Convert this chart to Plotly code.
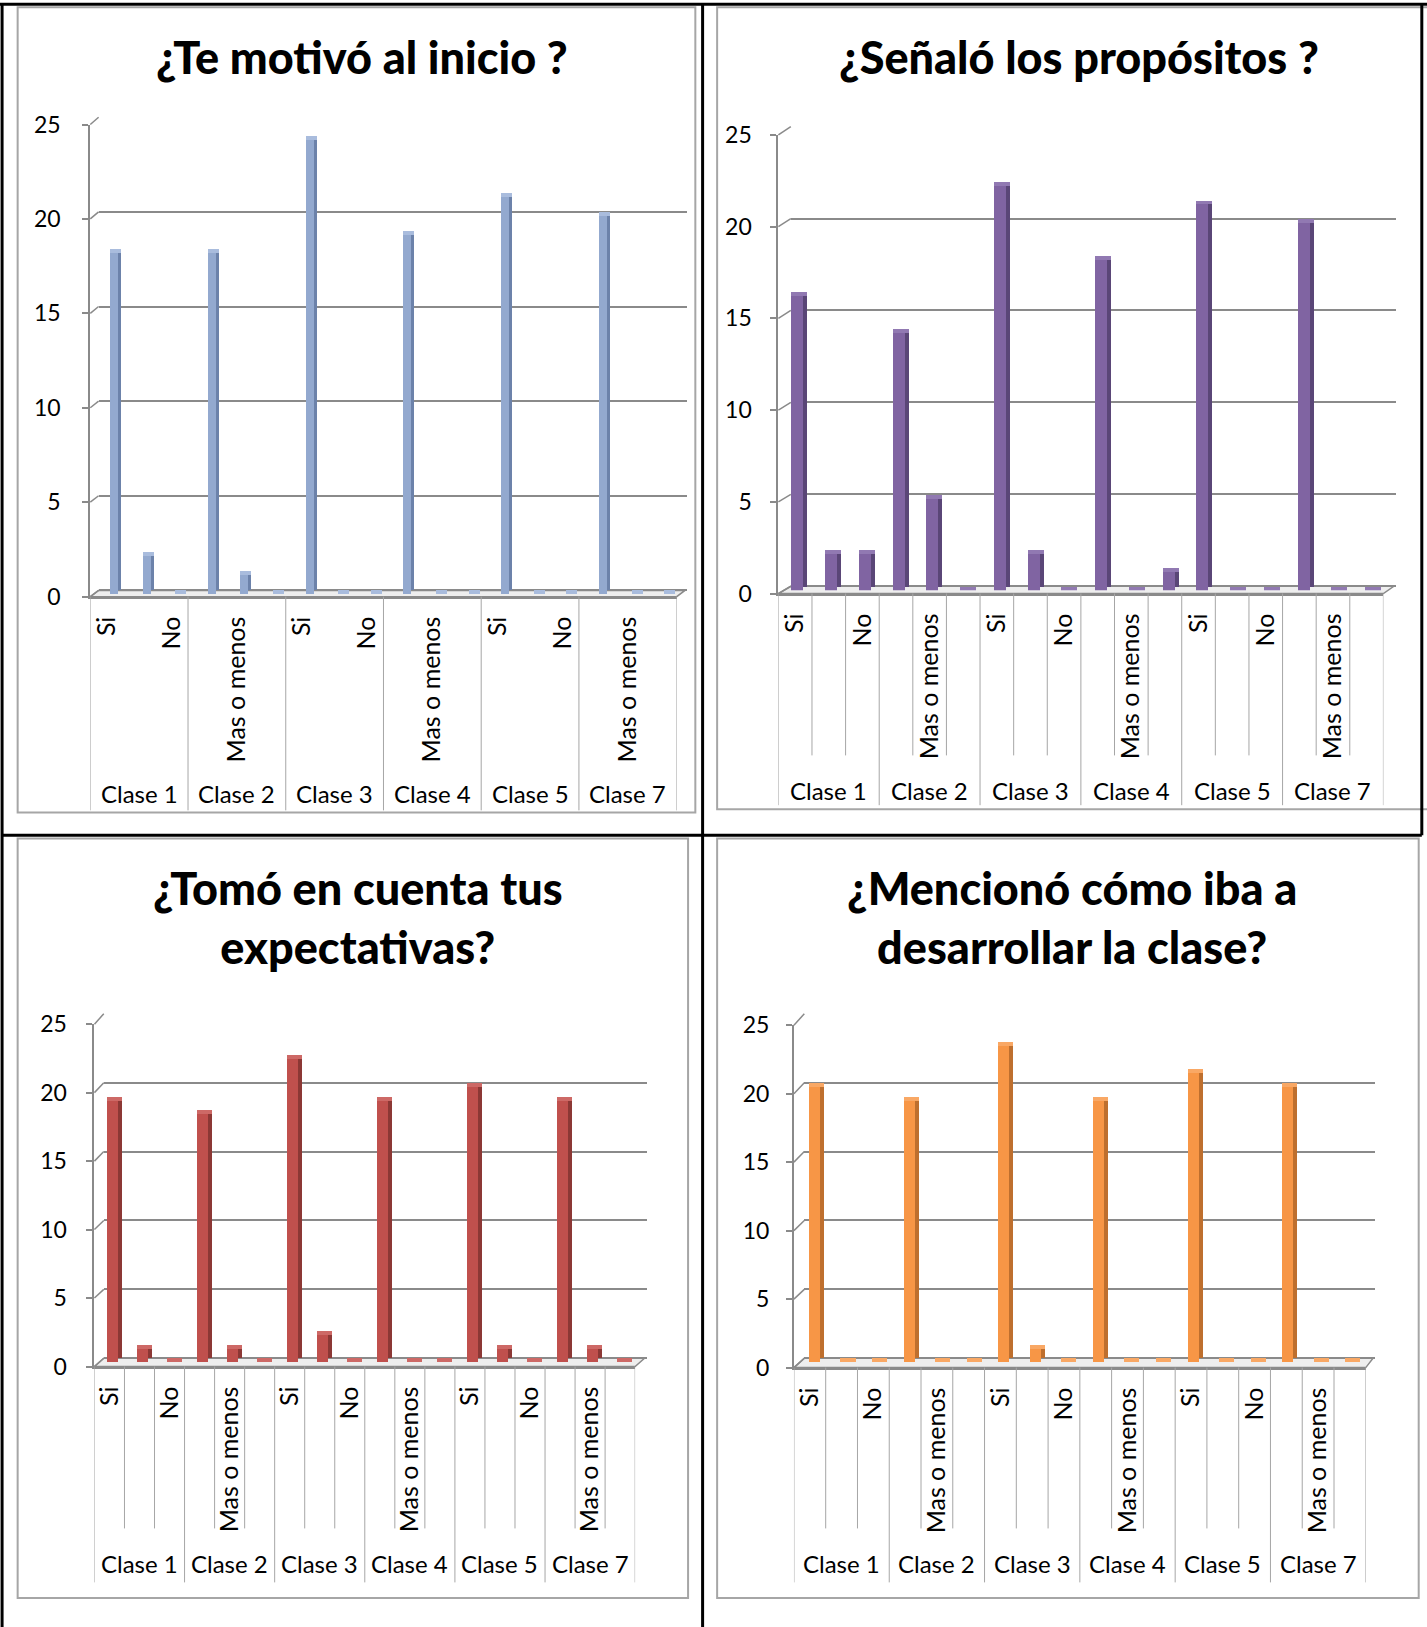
import plotly.graph_objects as go

# Canvas and the layout grid used for positioning (grid units -> paper fractions)
W, H = 1427, 1627
GW, GH = 1375, 1568

clases = ["Clase 1", "Clase 2", "Clase 3", "Clase 4", "Clase 5", "Clase 7"]
respuestas = ["Si", "Mas o menos", "No"]
y_ticks = [0, 5, 10, 15, 20, 25]

titulos = [
    "¿Te motivó al inicio ?",
    "¿Señaló los propósitos ?",
    "¿Tomó en cuenta tus<br>expectativas?",
    "¿Mencionó cómo iba a<br>desarrollar la clase?",
]

# counts per class, in the order Si / Mas o menos / No
motivo_inicio = [18, 2, 0, 18, 1, 0, 24, 0, 0, 19, 0, 0, 21, 0, 0, 20, 0, 0]
senalo_propositos = [16, 2, 2, 14, 5, 0, 22, 2, 0, 18, 0, 1, 21, 0, 0, 20, 0, 0]
tomo_expectativas = [19, 1, 0, 18, 1, 0, 22, 2, 0, 19, 0, 0, 20, 1, 0, 19, 1, 0]
menciono_desarrollo = [20, 0, 0, 19, 0, 0, 23, 1, 0, 19, 0, 0, 21, 0, 0, 20, 0, 0]

series = [motivo_inicio, senalo_propositos, tomo_expectativas, menciono_desarrollo]

# front / side / top face colours of the 3-D columns
colores = [
    ("#93A9CF", "#6C82AA", "#A9BCDD"),
    ("#8064A2", "#5A4677", "#9179B2"),
    ("#C0504D", "#8C3835", "#CD6966"),
    ("#F79646", "#BE6F2E", "#F9A865"),
]

# panel geometry on the layout grid
paneles = [
    dict(border=(17, 7, 670, 783), title=(349, 55), fx=(87, 652), fy=(575, 120),
         gx=(95, 662), gy=(569, 113), c0=111, step=31.4, clase_y=765,
         inner_bottom=None, sep_bottom=781, label_edge=62, bar=(7.7, 2.9)),
    dict(border=(691, 7, 1380, 780), title=(1040, 55), fx=(750, 1333), fy=(572, 130),
         gx=(762, 1345), gy=(565, 122), c0=770, step=32.53, clase_y=762,
         inner_bottom=728, sep_bottom=776, label_edge=728, bar=(11.5, 3.9)),
    dict(border=(17, 808, 663, 1540), title=(345, 884), fx=(91, 612), fy=(1317, 987),
         gx=(100, 623), gy=(1309, 977), c0=110, step=28.93, clase_y=1507,
         inner_bottom=1473, sep_bottom=1525, label_edge=68, bar=(10.6, 3.9)),
    dict(border=(691, 808, 1367, 1540), title=(1033, 884), fx=(765, 1316), fy=(1318, 988),
         gx=(775, 1325), gy=(1309, 977), c0=787, step=30.4, clase_y=1507,
         inner_bottom=1473, sep_bottom=1525, label_edge=745, bar=(10.6, 3.9)),
]

FONT = "Lato"
GRID = "#8A8A8A"
DIV = "#A6A6A6"
DEPTH_PX = 3.8   # apparent depth of the columns, in grid units


def px(x):
    return x / GW


def py(y):
    return 1 - y / GH


fig = go.Figure()
layout = {}
shapes = []
annotations = []
idx = list(range(18))

for i, (p, vals, (c_front, c_side, c_top)) in enumerate(zip(paneles, series, colores)):
    b, f = 2 * i + 1, 2 * i + 2
    xb, yb = f"x{b}", f"y{b}"
    xf, yf = f"x{f}", f"y{f}"
    gx0, gx1 = p["gx"]
    gyf, gyt = p["gy"]
    fx0, fx1 = p["fx"]
    fyf, fyt = p["fy"]
    step = p["step"]
    unit = (gyf - gyt) / 25          # grid units per count on the back wall
    depth = DEPTH_PX / unit          # column depth expressed in counts

    # back plane: gridlines and columns (range reaches slightly below 0 so the
    # front faces can stand on the front edge of the floor)
    layout[f"xaxis{b}"] = dict(domain=[px(gx0), px(gx1)],
                               range=[(gx0 - p["c0"]) / step, (gx1 - p["c0"]) / step],
                               anchor=yb, showgrid=False, showticklabels=False,
                               zeroline=False, showline=False, fixedrange=True,
                               automargin=False)
    layout[f"yaxis{b}"] = dict(domain=[py(gyf + DEPTH_PX), py(gyt)], range=[-depth, 25],
                               tickvals=y_ticks, anchor=xb, showgrid=True, gridcolor=GRID,
                               gridwidth=2, showticklabels=False, zeroline=False,
                               showline=False, fixedrange=True, automargin=False)

    fw_px, sw_px = p["bar"]
    fw, sw = fw_px / step, sw_px / step
    tw = fw + sw

    fig.add_trace(go.Bar(x=idx, y=vals, base=0, offset=-tw / 2 + fw,
                         width=sw, marker=dict(color=c_side, line_width=0),
                         xaxis=xb, yaxis=yb, showlegend=False, hoverinfo="skip"))
    fig.add_trace(go.Bar(x=idx, y=[depth] * len(vals), base=[v - depth for v in vals],
                         offset=-tw / 2, width=tw, marker=dict(color=c_top, line_width=0),
                         xaxis=xb, yaxis=yb, showlegend=False, hoverinfo="skip"))
    fig.add_trace(go.Bar(x=idx, y=vals, base=-depth, offset=-tw / 2, width=fw,
                         marker=dict(color=c_front, line_width=0),
                         xaxis=xb, yaxis=yb, showlegend=False,
                         customdata=[respuestas[k % 3] for k in idx],
                         hovertemplate="%{customdata}: %{y}<extra></extra>"))

    # front plane: value axis and category axis
    tick_len = 6
    layout[f"xaxis{f}"] = dict(domain=[px(fx0), px(fx1)], range=[-0.5, 17.5],
                               tickvals=idx[::2], ticktext=[respuestas[k % 3] for k in idx[::2]],
                               tickangle=-90, ticks="", ticklabelstandoff=8,
                               tickfont=dict(family=FONT, size=25, color="#000000"),
                               showline=True, linecolor=GRID, linewidth=2,
                               showgrid=False, zeroline=False, anchor=yf, fixedrange=True,
                               automargin=False)
    layout[f"yaxis{f}"] = dict(domain=[py(fyf), py(fyt)], range=[0, 25], tickvals=y_ticks,
                               ticks="outside", ticklen=tick_len, tickcolor=GRID, tickwidth=2,
                               ticklabelstandoff=max(fx0 - p["label_edge"] - tick_len - 2, 0),
                               tickfont=dict(family=FONT, size=23, color="#000000"),
                               showline=True, linecolor=GRID, linewidth=2,
                               showgrid=False, zeroline=False, anchor=xf, fixedrange=True,
                               automargin=False)
    fig.add_trace(go.Scatter(x=[0], y=[0], mode="markers", marker=dict(opacity=0),
                             xaxis=xf, yaxis=yf, showlegend=False, hoverinfo="skip"))

    # floor of the 3-D plot
    shapes.append(dict(type="path", xref="paper", yref="paper", layer="below",
                       path=(f"M {px(fx0)},{py(fyf)} L {px(fx1)},{py(fyf)} "
                             f"L {px(gx1 - 2)},{py(gyf)} L {px(gx0)},{py(gyf)} Z"),
                       fillcolor="#EEEEEE", line=dict(color=GRID, width=1.5)))
    # connectors from the front axis to the back wall
    for v in y_ticks:
        shapes.append(dict(type="line", xref="paper", yref="paper",
                           x0=px(fx0), y0=py(fyf + (fyt - fyf) * v / 25),
                           x1=px(gx0), y1=py(gyf + (gyt - gyf) * v / 25),
                           line=dict(color=GRID, width=1.5)))

    # category dividers
    for k in range(7):
        shapes.append(dict(type="line", xref=xf, yref="paper", x0=3 * k - 0.5, x1=3 * k - 0.5,
                           y0=py(fyf), y1=py(p["sep_bottom"]), line=dict(color=DIV, width=1)))
    if p["inner_bottom"] is not None:
        for c in range(17):
            if (c + 1) % 3:
                shapes.append(dict(type="line", xref=xf, yref="paper", x0=c + 0.5, x1=c + 0.5,
                                   y0=py(fyf), y1=py(p["inner_bottom"]),
                                   line=dict(color=DIV, width=1)))

    for k, clase in enumerate(clases):
        annotations.append(dict(text=clase, xref=xf, yref="paper", x=3 * k + 1,
                                y=py(p["clase_y"]), showarrow=False, yanchor="middle",
                                font=dict(family=FONT, size=24, color="#000000")))

    # chart frame
    bx0, by0, bx1, by1 = p["border"]
    shapes.append(dict(type="rect", xref="paper", yref="paper", x0=px(bx0), x1=px(bx1),
                       y0=py(by0), y1=py(by1), line=dict(color=DIV, width=2), layer="below"))

    tx, ty = p["title"]
    annotations.append(dict(text=titulos[i], xref="paper", yref="paper", x=px(tx), y=py(ty),
                            showarrow=False, xanchor="center", yanchor="middle",
                            font=dict(family=FONT, size=45, color="#000000", weight=900)))

# table grid lines around the four charts
for x0, y0, x1, y1 in [(0, 4, GW, 4), (2, 4, 2, GH), (677, 4, 677, GH),
                       (2, 805, 1370, 805), (1370, 4, 1370, 805)]:
    shapes.append(dict(type="line", xref="paper", yref="paper", x0=px(x0), x1=px(x1),
                       y0=py(y0), y1=py(y1), line=dict(color="#000000", width=3)))

fig.update_layout(
    width=W, height=H, autosize=False,
    margin=dict(l=0, r=0, t=0, b=0, pad=0, autoexpand=False),
    paper_bgcolor="#FFFFFF", plot_bgcolor="rgba(0,0,0,0)",
    barmode="overlay", bargap=0,
    shapes=shapes, annotations=annotations,
    font=dict(family=FONT, color="#000000"),
    **layout,
)

fig.write_html("out.html")
